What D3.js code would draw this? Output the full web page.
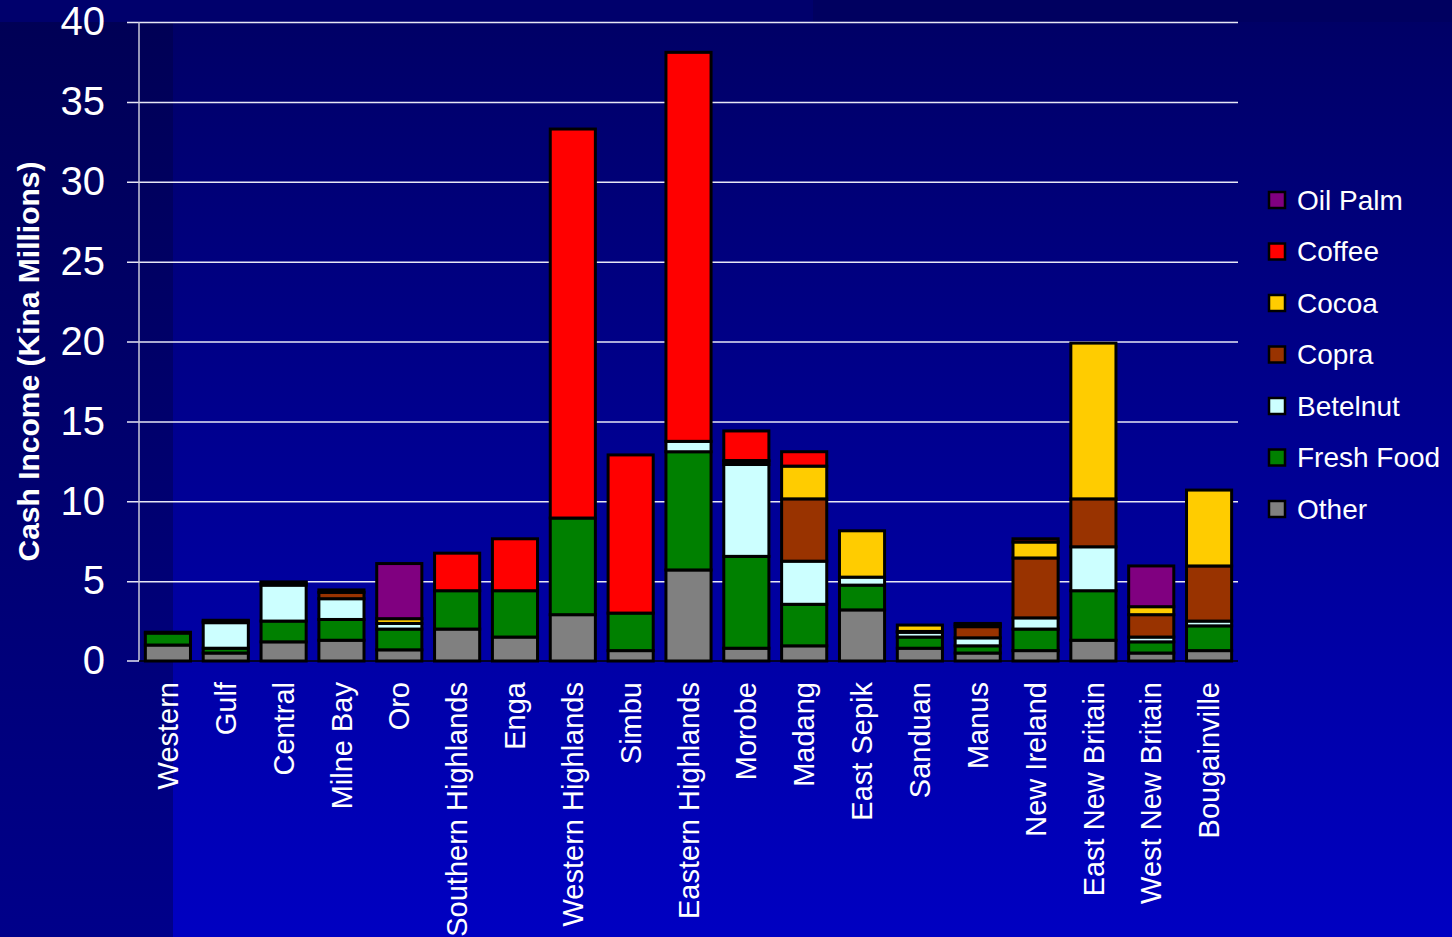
<!DOCTYPE html>
<html>
<head>
<meta charset="utf-8">
<script src="https://cdn.jsdelivr.net/npm/d3@7"></script>
<style>
  html, body { margin: 0; padding: 0; background: #000066; }
  svg { display: block; font-family: "Liberation Sans", Arial, sans-serif; }
</style>
</head>
<body>
<svg id="chart" width="1452" height="937"></svg>
<script>
// Provinces of Papua New Guinea
const provinces = ["Western", "Gulf", "Central", "Milne Bay", "Oro", "Southern Highlands", "Enga",
  "Western Highlands", "Simbu", "Eastern Highlands", "Morobe", "Madang", "East Sepik", "Sanduan",
  "Manus", "New Ireland", "East New Britain", "West New Britain", "Bougainville"];

// Cash income by source, Kina millions (stack order: bottom to top)
const other     = [1.0, 0.5, 1.2, 1.3, 0.7, 2.0, 1.5, 2.9, 0.65, 5.7, 0.8, 0.95, 3.2, 0.8, 0.5, 0.65, 1.3, 0.5, 0.65];
const freshFood = [0.75, 0.3, 1.3, 1.3, 1.3, 2.4, 2.9, 6.05, 2.35, 7.4, 5.75, 2.6, 1.55, 0.7, 0.45, 1.35, 3.1, 0.7, 1.55];
const betelnut  = [0.05, 1.6, 2.25, 1.3, 0.35, 0, 0, 0, 0, 0.65, 5.75, 2.7, 0.5, 0.3, 0.5, 0.7, 2.75, 0.3, 0.3];
const copra     = [0, 0.1, 0.15, 0.4, 0, 0, 0, 0, 0, 0, 0.2, 3.9, 0, 0.05, 0.7, 3.75, 3.0, 1.4, 3.45];
const cocoa     = [0, 0.05, 0.05, 0.15, 0.3, 0, 0, 0, 0, 0, 0.05, 2.05, 2.9, 0.4, 0.15, 1.0, 9.75, 0.5, 4.75];
const coffee    = [0, 0, 0, 0, 0, 2.35, 3.25, 24.35, 9.9, 24.35, 1.85, 0.9, 0, 0, 0.05, 0.2, 0, 0, 0];
const oilPalm   = [0, 0, 0, 0, 3.45, 0, 0, 0, 0, 0, 0, 0, 0, 0, 0, 0, 0, 2.55, 0];

const seriesNames  = ["Other", "Fresh Food", "Betelnut", "Copra", "Cocoa", "Coffee", "Oil Palm"];
const seriesValues = [other, freshFood, betelnut, copra, cocoa, coffee, oilPalm];
const seriesColors = ["#808080", "#008000", "#CCFFFF", "#993300", "#FFCC00", "#FF0000", "#800080"];
const legendOrder  = ["Oil Palm", "Coffee", "Cocoa", "Copra", "Betelnut", "Fresh Food", "Other"];
const yTicks = [0, 5, 10, 15, 20, 25, 30, 35, 40];

const W = 1452, H = 937;
const svg = d3.select("#chart");

// Background: slide-style vertical gradient with a darker left band
const defs = svg.append("defs");
const g1 = defs.append("linearGradient").attr("id", "bgMain").attr("x1", 0).attr("y1", 0).attr("x2", 0).attr("y2", 1);
g1.append("stop").attr("offset", "0%").attr("stop-color", "#000064");
g1.append("stop").attr("offset", "100%").attr("stop-color", "#0000C2");
const g2 = defs.append("linearGradient").attr("id", "bgLeft").attr("x1", 0).attr("y1", 0).attr("x2", 0).attr("y2", 1);
g2.append("stop").attr("offset", "0%").attr("stop-color", "#000054");
g2.append("stop").attr("offset", "100%").attr("stop-color", "#00008A");
svg.append("rect").attr("width", W).attr("height", H).attr("fill", "url(#bgMain)");
svg.append("rect").attr("x", 0).attr("y", 0).attr("width", 173).attr("height", H).attr("fill", "url(#bgLeft)");
svg.append("rect").attr("x", 0).attr("y", 0).attr("width", 813).attr("height", 22).attr("fill", "#00006C");
svg.append("rect").attr("x", 813).attr("y", 0).attr("width", W - 813).attr("height", 22).attr("fill", "#000060");

// Scales
const x = d3.scaleBand().domain(provinces).range([139, 1238]).paddingInner(0.22).paddingOuter(0.11);
const y = d3.scaleLinear().domain([0, 40]).range([661, 22]);

// Gridlines
svg.append("g")
  .attr("transform", "translate(127,0)")
  .call(d3.axisRight(y).tickValues(yTicks.filter(d => d > 0)).tickSize(1238 - 127).tickFormat(""))
  .call(g => g.select(".domain").remove())
  .call(g => g.selectAll("line").attr("stroke", "#E6E6F5").attr("stroke-width", 1.5));

// Y axis line and zero tick
svg.append("line").attr("x1", 139).attr("x2", 139).attr("y1", y(40)).attr("y2", y(0))
  .attr("stroke", "#C8C8D8").attr("stroke-width", 1.5);
svg.append("line").attr("x1", 127).attr("x2", 139).attr("y1", y(0)).attr("y2", y(0))
  .attr("stroke", "#E6E6F5").attr("stroke-width", 1.5);

// Y tick labels
svg.append("g")
  .attr("transform", "translate(139,0)")
  .call(d3.axisLeft(y).tickValues(yTicks).tickSize(0).tickPadding(34))
  .call(g => g.select(".domain").remove())
  .call(g => g.selectAll("text").attr("fill", "#FFFFFF").attr("font-size", 40)
    .attr("font-family", "'Liberation Sans', Arial, sans-serif"));

// Stacked bars
const rows = provinces.map((p, i) => {
  const r = { province: p };
  seriesNames.forEach((s, k) => { r[s] = seriesValues[k][i]; });
  return r;
});
const stacked = d3.stack().keys(seriesNames)(rows);

svg.append("g").selectAll("g")
  .data(stacked)
  .join("g")
  .attr("fill", (d, k) => seriesColors[k])
  .selectAll("rect")
  .data(d => d.filter(seg => seg[1] - seg[0] > 0))
  .join("rect")
  .attr("x", d => x(d.data.province))
  .attr("width", x.bandwidth())
  .attr("y", d => y(d[1]))
  .attr("height", d => y(d[0]) - y(d[1]))
  .attr("stroke", "#000000")
  .attr("stroke-width", 3);

// X axis line
svg.append("line").attr("x1", 139).attr("x2", 1238).attr("y1", y(0)).attr("y2", y(0))
  .attr("stroke", "#000000").attr("stroke-width", 1.5);

// Category labels, rotated
svg.append("g")
  .attr("transform", `translate(0,${y(0)})`)
  .call(d3.axisBottom(x).tickSize(0))
  .call(g => g.select(".domain").remove())
  .call(g => g.selectAll("text")
    .attr("fill", "#FFFFFF")
    .attr("font-size", 29)
    .attr("font-family", "'Liberation Sans', Arial, sans-serif")
    .attr("transform", "rotate(-90)")
    .attr("text-anchor", "end")
    .attr("x", -21)
    .attr("y", 0)
    .attr("dy", "0.35em"));

// Y axis title
svg.append("text")
  .attr("transform", `translate(28,${(y(0) + y(40)) / 2 + 20}) rotate(-90)`)
  .attr("text-anchor", "middle")
  .attr("dy", "0.35em")
  .attr("fill", "#FFFFFF")
  .attr("font-size", 30)
  .attr("font-weight", "bold")
  .text("Cash Income (Kina Millions)");

// Legend
const legend = svg.append("g").attr("transform", "translate(1269,200)");
const legendItems = legend.selectAll("g")
  .data(legendOrder)
  .join("g")
  .attr("transform", (d, i) => `translate(0,${i * 51.5})`);
legendItems.append("rect")
  .attr("x", 0).attr("y", -8).attr("width", 16).attr("height", 16)
  .attr("fill", d => seriesColors[seriesNames.indexOf(d)])
  .attr("stroke", "#000000").attr("stroke-width", 2.5);
legendItems.append("text")
  .attr("x", 28).attr("y", 0).attr("dy", "0.35em")
  .attr("fill", "#FFFFFF").attr("font-size", 28)
  .text(d => d);
</script>
</body>
</html>
